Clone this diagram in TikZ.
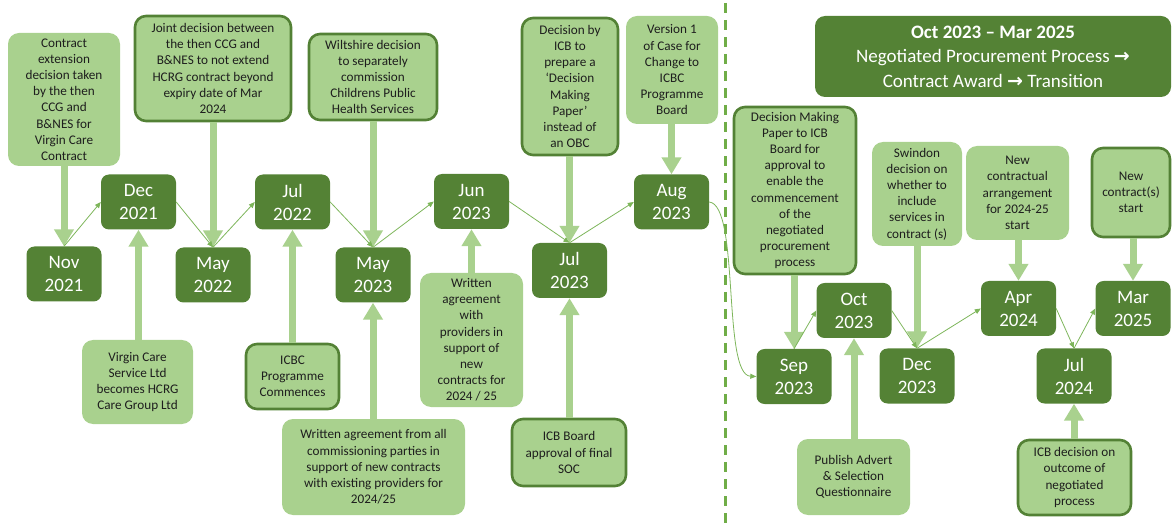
\documentclass[tikz,border=0pt]{standalone}
\usepackage{fontspec}
\setmainfont{Carlito}
\newfontfamily\arrowfont{DejaVu Sans}
\usetikzlibrary{arrows.meta}
\definecolor{darkg}{HTML}{548235}
\definecolor{lightg}{HTML}{A9D18E}
\definecolor{borderg}{HTML}{538135}
\definecolor{dashg}{HTML}{70AD47}
\definecolor{thing}{HTML}{7DB55A}
\definecolor{txt}{HTML}{1E1E1E}
\begin{document}
\begin{tikzpicture}[x=1pt,y=-1pt,
 datebox/.style={fill=darkg, rounded corners=8pt, text=white, font=\fontsize{19}{23}\selectfont, align=center, inner sep=0pt, minimum width=75pt, minimum height=55pt},
 eventbox/.style={fill=lightg, rounded corners=11pt, text=txt, font=\fontsize{13.2}{16.2}\selectfont, align=center, inner sep=0pt},
 framed/.style={draw=borderg, line width=2.6pt},
 bigarrow/.style={draw=lightg, line width=7pt, -{Triangle[width=19pt,length=17pt]}},
 link/.style={draw=thing, line width=0.8pt, -{Triangle[width=5pt,length=6pt]}},
 header/.style={fill=darkg, rounded corners=10pt, text=white, align=center, inner sep=0pt, font=\fontsize{19}{24.5}\selectfont},
 divider/.style={draw=dashg, line width=3pt, dash pattern=on 10pt off 7pt}
]
\useasboundingbox (0,0) rectangle (1173,529);

% divider
\coordinate (dtop) at (725.5,3);
\coordinate (dbot) at (725.5,529);
\draw[divider] (dtop) -- (dbot);

% header
\node[header, minimum width=356pt, minimum height=81pt] (hdr) at (993,56.5)
 {\textbf{Oct 2023 – Mar 2025}\\Negotiated Procurement Process {\arrowfont\bfseries →}\\Contract Award {\arrowfont\bfseries →} Transition};

% date boxes
\node[datebox] (nov21) at (64,274) {Nov\\2021};
\node[datebox] (dec21) at (138.5,202) {Dec\\2021};
\node[datebox] (may22) at (213,275) {May\\2022};
\node[datebox] (jul22) at (292.5,202) {Jul\\2022};
\node[datebox] (may23) at (373,275) {May\\2023};
\node[datebox] (jun23) at (471.5,201.5) {Jun\\2023};
\node[datebox] (jul23) at (569.5,270.5) {Jul\\2023};
\node[datebox] (aug23) at (671.5,202) {Aug\\2023};
\node[datebox] (sep23) at (794,376.5) {Sep\\2023};
\node[datebox] (oct23) at (854,310.5) {Oct\\2023};
\node[datebox] (dec23) at (917,376) {Dec\\2023};
\node[datebox] (apr24) at (1018.5,308.5) {Apr\\2024};
\node[datebox] (jul24) at (1074,376) {Jul\\2024};
\node[datebox] (mar25) at (1133,308.5) {Mar\\2025};

% top events
\node[eventbox, minimum width=112pt, minimum height=133pt] (e1) at (64,99.5)
 {Contract\\extension\\decision taken\\by the then\\CCG and\\B\&NES for\\Virgin Care\\Contract};
\node[eventbox, framed, minimum width=156pt, minimum height=105pt] (e2) at (213,68.5)
 {Joint decision between\\the then CCG and\\B\&NES to not extend\\HCRG contract beyond\\expiry date of Mar\\2024};
\node[eventbox, framed, minimum width=128pt, minimum height=86pt] (e3) at (373,77)
 {Wiltshire decision\\to separately\\commission\\Childrens Public\\Health Services};
\node[eventbox, framed, minimum width=96pt, minimum height=137pt] (e4) at (570,86.5)
 {Decision by\\ICB to\\prepare a\\‘Decision\\Making\\Paper’\\instead of\\an OBC};
\node[eventbox, minimum width=92pt, minimum height=108pt] (e5) at (672,70)
 {Version 1\\of Case for\\Change to\\ICBC\\Programme\\Board};
\node[eventbox, framed, minimum width=122pt, minimum height=167pt] (e6) at (795,190.5)
 {Decision Making\\Paper to ICB\\Board for\\approval to\\enable the\\commencement\\of the\\negotiated\\procurement\\process};
\node[eventbox, minimum width=90pt, minimum height=104pt] (e7) at (917,194)
 {Swindon\\decision on\\whether to\\include\\services in\\contract (s)};
\node[eventbox, minimum width=103pt, minimum height=94pt] (e8) at (1017.5,193)
 {New\\contractual\\arrangement\\for 2024-25\\start};
\node[eventbox, framed, minimum width=78pt, minimum height=89pt] (e9) at (1131,192.5)
 {New\\contract(s)\\start};

% bottom events
\node[eventbox, minimum width=111pt, minimum height=84pt] (ea) at (137.5,382)
 {Virgin Care\\Service Ltd\\becomes HCRG\\Care Group Ltd};
\node[eventbox, framed, minimum width=93pt, minimum height=65pt] (eb) at (292.5,376.5)
 {ICBC\\Programme\\Commences};
\node[eventbox, minimum width=183pt, minimum height=96pt] (ec) at (373.5,467)
 {Written agreement from all\\commissioning parties in\\support of new contracts\\with existing providers for\\2024/25};
\node[eventbox, minimum width=103pt, minimum height=134pt] (ed) at (471.5,340)
 {Written\\agreement\\with\\providers in\\support of\\new\\contracts for\\2024 / 25};
\node[eventbox, framed, minimum width=114pt, minimum height=67pt] (ee) at (569,452.5)
 {ICB Board\\approval of final\\SOC};
\node[eventbox, minimum width=113pt, minimum height=76pt] (ef) at (853.5,477)
 {Publish Advert\\\& Selection\\Questionnaire};
\node[eventbox, framed, minimum width=113pt, minimum height=75pt] (eg) at (1074.5,477.5)
 {ICB decision on\\outcome of\\negotiated\\process};

% thick arrows down
\draw[bigarrow] (e1.south -| nov21.north) -- (nov21.north);
\draw[bigarrow] (e2.south -| may22.north) -- (may22.north);
\draw[bigarrow] (e3.south -| may23.north) -- (may23.north);
\draw[bigarrow] (e4.south -| jul23.north) -- (jul23.north);
\draw[bigarrow] (e5.south -| aug23.north) -- (aug23.north);
\draw[bigarrow] (e6.south -| sep23.north) -- (sep23.north);
\draw[bigarrow] (e7.south -| dec23.north) -- (dec23.north);
\draw[bigarrow] (e8.south -| apr24.north) -- (apr24.north);
\draw[bigarrow] (e9.south -| mar25.north) -- (mar25.north);
% thick arrows up
\draw[bigarrow] (ea.north -| dec21.south) -- (dec21.south);
\draw[bigarrow] (eb.north -| jul22.south) -- (jul22.south);
\draw[bigarrow] (ec.north -| may23.south) -- (may23.south);
\draw[bigarrow] (ed.north -| jun23.south) -- (jun23.south);
\draw[bigarrow] (ee.north -| jul23.south) -- (jul23.south);
\draw[bigarrow] (ef.north -| oct23.south) -- (oct23.south);
\draw[bigarrow] (eg.north -| jul24.south) -- (jul24.south);

% thin timeline links
\draw[link] (nov21.north) -- (dec21.west);
\draw[link] (dec21.east) -- (may22.north);
\draw[link] (may22.north) -- (jul22.west);
\draw[link] (jul22.east) -- (may23.north);
\draw[link] (may23.north) -- (jun23.west);
\draw[link] (jun23.east) -- (jul23.north);
\draw[link] (jul23.north) -- (aug23.west);
\draw[link] (aug23.east) .. controls (740,205) and (722,375) .. (sep23.west);
\draw[link] (sep23.north) -- (oct23.west);
\draw[link] (oct23.east) -- (dec23.north);
\draw[link] (dec23.north) -- (apr24.west);
\draw[link] (apr24.east) -- (jul24.north);
\draw[link] (jul24.north) -- (mar25.west);
\end{tikzpicture}
\end{document}
